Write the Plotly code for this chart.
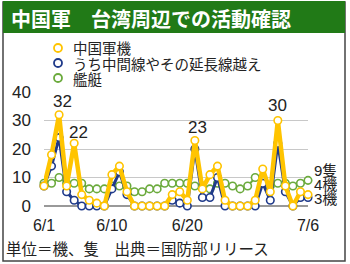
import plotly.graph_objects as go

# ---- data ----
days = [f"6/{d}" for d in range(1, 31)] + [f"7/{d}" for d in range(1, 7)]
aircraft = [7, 18, 32, 7, 22, 4, 2, 1, 0, 11, 14, 5, 0, 0, 0, 0, 0, 4, 5, 2,
            23, 6, 11, 14, 2, 0, 0, 0, 2, 13, 5, 30, 7, 0, 5, 4]
median_cross = [7, 14, 24, 5, 2, 0, 0, 0, 0, 6, 12, 4, 0, 0, 0, 0, 0, 2, 1, 0,
                20, 3, 3, 10, 0, 0, 0, 0, 0, 8, 2, 22, 5, 0, 3, 3]
ships = [8, 8, 10, 8, 8, 8, 6, 6, 6, 7, 7, 7, 5, 5, 6, 6, 8, 8, 8, 8,
         7, 7, 6, 8, 8, 7, 6, 7, 10, 8, 7, 8, 8, 7, 8, 9]
series_names = ["中国軍機", "うち中間線やその延長線越え", "艦艇"]
tick_days = ["6/1", "6/10", "6/20", "7/6"]
y_ticks = [0, 10, 20, 30, 40]
peak_days = ["6/3", "6/5", "6/21", "7/2"]
end_labels = ["9隻", "4機", "3機"]

# ---- style ----
YEL = "#FFC400"
BLU = "#1F3A8A"
GRN = "#6BAA3C"
BAR = "#217A17"
FONT = "Liberation Sans, Arial, Noto Sans CJK JP"
W, H = 350, 264
L, R, T, B = 44, 42, 92, 58
PW, PH = W - L - R, H - T - B


def px(x):
    return (x - L) / PW


def py(y):
    return (H - B - y) / PH


fig = go.Figure()
for vals, col, lw, name in [(ships, GRN, 2, series_names[2]),
                            (median_cross, BLU, 3, series_names[1]),
                            (aircraft, YEL, 4.5, series_names[0])]:
    fig.add_trace(go.Scatter(
        x=days, y=vals, mode="lines+markers", name=name,
        line=dict(color=col, width=lw),
        marker=dict(symbol="circle", size=7.5, color="white",
                    line=dict(color=col, width=1.6)),
        cliponaxis=False, showlegend=False))

shapes = [
    dict(type="rect", xref="paper", yref="paper", x0=px(3), x1=px(345),
         y0=py(261), y1=py(2), line=dict(color="#444", width=1.5),
         fillcolor="rgba(0,0,0,0)", layer="below"),
    dict(type="rect", xref="paper", yref="paper", x0=px(3), x1=px(345),
         y0=py(33), y1=py(1), line=dict(width=0), fillcolor=BAR),
]
leg_y = [48, 63, 78]
for yy, col in zip(leg_y, [YEL, BLU, GRN]):
    shapes.append(dict(type="circle", xref="paper", yref="paper",
                       xsizemode="pixel", ysizemode="pixel",
                       xanchor=px(58), yanchor=py(yy),
                       x0=-4, x1=4, y0=-4, y1=4,
                       line=dict(color=col, width=1.8), fillcolor="white"))

ann = [
    dict(text="<b>中国軍　台湾周辺での活動確認</b>", xref="paper", yref="paper",
         x=px(9), y=py(18), xanchor="left", yanchor="middle", showarrow=False,
         font=dict(size=20, color="white", family="Noto Sans CJK JP")),
    dict(text="単位＝機、隻　出典＝国防部リリース", xref="paper", yref="paper",
         x=px(4), y=py(248), xanchor="left", yanchor="middle", showarrow=False,
         font=dict(size=15.5, color="#222", family="Noto Sans CJK JP")),
]
for yy, name in zip(leg_y, series_names):
    ann.append(dict(text=name, xref="paper", yref="paper", x=px(71), y=py(yy),
                    xanchor="left", yanchor="middle", showarrow=False,
                    font=dict(size=14.5, color="#222", family="Noto Sans CJK JP")))
shifts = [(3, 13), (4, 11), (3, 13), (0, 15)]
for d, (xs, ys) in zip(peak_days, shifts):
    i = days.index(d)
    ann.append(dict(text=str(aircraft[i]), x=d, y=aircraft[i], xref="x", yref="y",
                    xshift=xs, yshift=ys, showarrow=False, yanchor="middle",
                    font=dict(size=17, color="#222", family=FONT)))
for lab, yy in zip(end_labels, [170, 184, 198]):
    ann.append(dict(text=lab, xref="paper", yref="paper", x=px(312), y=py(yy),
                    xanchor="left", yanchor="middle", showarrow=False,
                    font=dict(size=15, color="#222", family=FONT)))

fig.update_layout(
    width=W, height=H, margin=dict(l=L, r=R, t=T, b=B),
    paper_bgcolor="white", plot_bgcolor="white",
    font=dict(family=FONT, color="#222"),
    shapes=shapes, annotations=ann, showlegend=False,
    xaxis=dict(type="category", range=[0, 35], tickmode="array",
               tickvals=tick_days, ticktext=tick_days, showgrid=False,
               zeroline=False, showline=False, ticks="", ticklabelstandoff=8,
               tickfont=dict(size=16)),
    yaxis=dict(range=[0, 40], tickvals=y_ticks, showgrid=True,
               gridcolor="#c8c8c8", gridwidth=1, zeroline=True,
               zerolinecolor="#999", zerolinewidth=2, showline=False,
               ticks="", ticklabelstandoff=12, tickfont=dict(size=17)),
)
fig.write_html("out.html")
